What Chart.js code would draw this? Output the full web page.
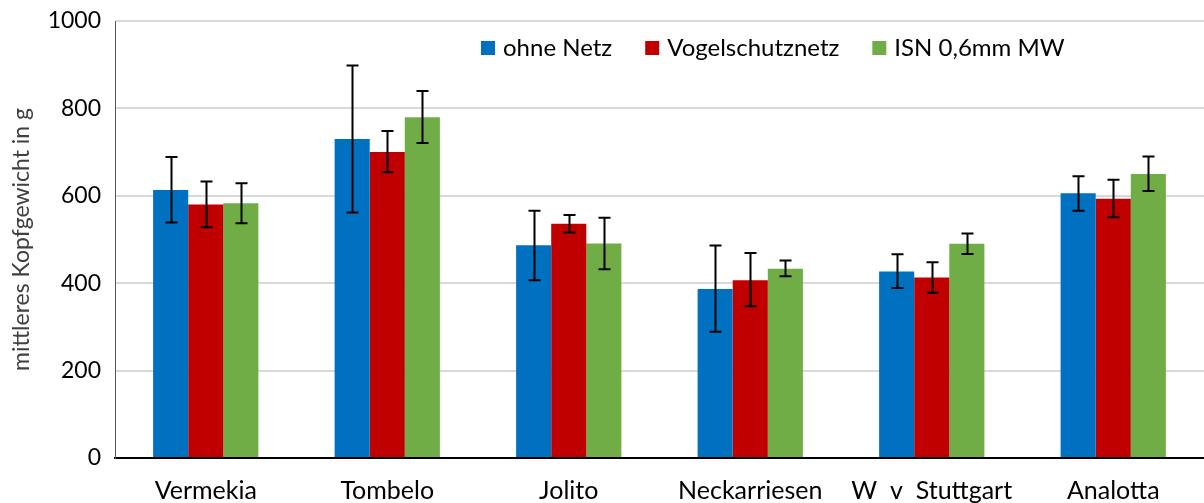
<!DOCTYPE html>
<html>
<head>
<meta charset="utf-8">
<script src="https://cdn.jsdelivr.net/npm/chart.js@4"></script>
<style>
  html, body { margin: 0; padding: 0; background: #fff; }
  #wrap { width: 1204px; height: 503px; }
</style>
</head>
<body>
<div id="wrap"><canvas id="chart"></canvas></div>
<script>
const sorten = ['Vermekia', 'Tombelo', 'Jolito', 'Neckarriesen', 'W  v  Stuttgart', 'Analotta'];

const ohneNetz      = [613, 730, 487, 387, 427, 606];
const ohneNetzHi    = [689, 898, 566, 486, 466, 645];
const ohneNetzLo    = [539, 562, 407, 289, 389, 566];

const vogelschutz   = [580, 700, 536, 407, 413, 593];
const vogelschutzHi = [633, 748, 556, 469, 448, 637];
const vogelschutzLo = [528, 654, 516, 347, 378, 551];

const isn           = [583, 780, 491, 433, 490, 650];
const isnHi         = [629, 840, 550, 452, 514, 690];
const isnLo         = [537, 721, 432, 416, 467, 611];

const yTicks = [0, 200, 400, 600, 800, 1000];

const FONT = 'Lato, "Open Sans", sans-serif';

// whiskers drawn per bar, from the Hi/Lo arrays
const errorBars = {
  id: 'errorBars',
  afterDatasetsDraw(chart) {
    const ctx = chart.ctx;
    const y = chart.scales.y;
    ctx.save();
    ctx.strokeStyle = '#000';
    ctx.lineWidth = 2;
    chart.data.datasets.forEach((ds, i) => {
      const meta = chart.getDatasetMeta(i);
      meta.data.forEach((bar, j) => {
        const top = y.getPixelForValue(ds.hi[j]);
        const bot = y.getPixelForValue(ds.lo[j]);
        const x = Math.round(bar.x) + 0.5;
        ctx.beginPath();
        ctx.moveTo(x, top); ctx.lineTo(x, bot);
        ctx.moveTo(x - 6, top); ctx.lineTo(x + 6, top);
        ctx.moveTo(x - 6, bot); ctx.lineTo(x + 6, bot);
        ctx.stroke();
      });
    });
    ctx.restore();
  }
};

// legend sits inside the plot, right of centre
const innerLegend = {
  id: 'innerLegend',
  afterDraw(chart) {
    const ctx = chart.ctx;
    const area = chart.chartArea;
    ctx.save();
    ctx.font = '24px ' + FONT;
    ctx.textBaseline = 'middle';
    let x = area.left + 366;
    const yc = area.top + 27;
    chart.data.datasets.forEach(ds => {
      ctx.fillStyle = ds.backgroundColor;
      ctx.fillRect(x, yc - 7, 14, 14);
      ctx.fillStyle = '#000';
      ctx.fillText(ds.label, x + 22, yc);
      x += 22 + ctx.measureText(ds.label).width + 33;
    });
    ctx.restore();
  }
};

new Chart(document.getElementById('chart'), {
  type: 'bar',
  data: {
    labels: sorten,
    datasets: [
      { label: 'ohne Netz', data: ohneNetz, hi: ohneNetzHi, lo: ohneNetzLo, backgroundColor: '#0070c0' },
      { label: 'Vogelschutznetz', data: vogelschutz, hi: vogelschutzHi, lo: vogelschutzLo, backgroundColor: '#c00000' },
      { label: 'ISN 0,6mm MW', data: isn, hi: isnHi, lo: isnLo, backgroundColor: '#70ad47' }
    ]
  },
  options: {
    responsive: true,
    maintainAspectRatio: false,
    animation: false,
    layout: { padding: { top: 0, right: 0, left: 0, bottom: 0 } },
    datasets: { bar: { categoryPercentage: 0.58, barPercentage: 1 } },
    plugins: {
      legend: { display: false },
      tooltip: { enabled: false }
    },
    scales: {
      x: {
        grid: { display: false, drawTicks: false },
        border: { color: '#000', width: 2 },
        ticks: { color: '#000', font: { family: FONT, size: 25 }, padding: 18, maxRotation: 0, autoSkip: false },
        afterFit(s) { s.height = 45; }
      },
      y: {
        min: 0, max: 1000,
        afterBuildTicks(s) { s.ticks = yTicks.map(v => ({ value: v })); },
        grid: { color: '#d9d9d9', lineWidth: 2, drawTicks: false },
        border: { color: '#595959', width: 1 },
        ticks: { color: '#000', font: { family: FONT, size: 23 }, padding: 14, callback: v => String(v) },
        title: {
          display: true, text: 'mittleres Kopfgewicht in g',
          color: '#404040', font: { family: FONT, size: 23 }, padding: { top: 8, bottom: 0 }
        },
        afterFit(s) { s.width = 115; s.paddingTop = 21; s.paddingBottom = 0; }
      }
    }
  },
  plugins: [errorBars, innerLegend]
});
</script>
</body>
</html>
